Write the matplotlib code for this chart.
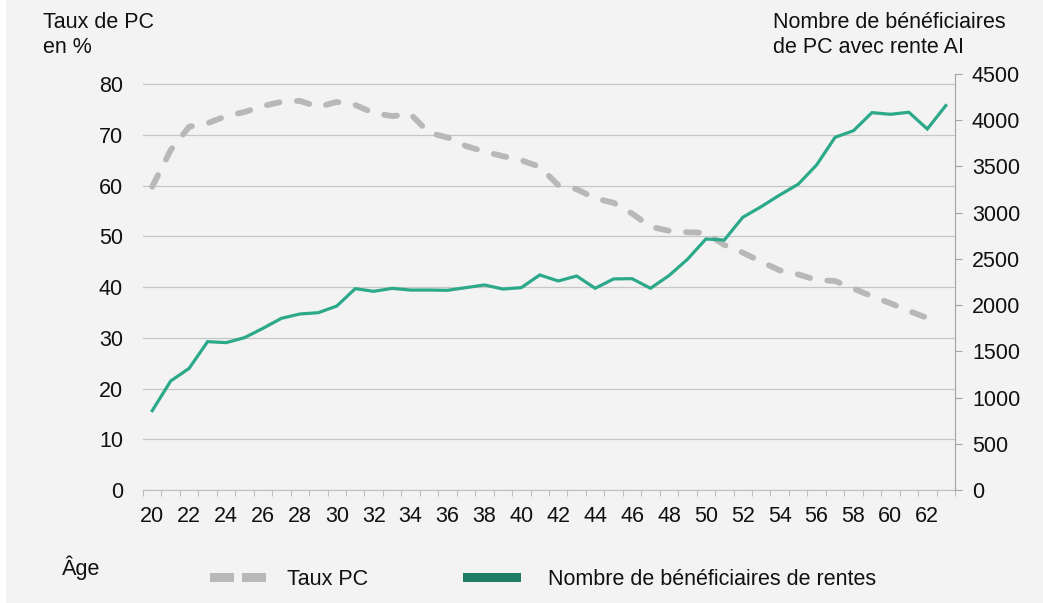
import matplotlib
matplotlib.use("Agg")
import matplotlib.pyplot as plt
from matplotlib.patches import Rectangle
import numpy as np

plt.rcParams['font.family'] = ['Liberation Sans', 'DejaVu Sans']

# data
ages = list(range(20, 64))
taux_pc = [59.8, 67.0, 71.6, 72.3, 73.7, 74.5, 75.7, 76.5, 76.7, 75.5,
           76.5, 75.9, 74.3, 73.7, 74.1, 70.4, 69.5, 67.8, 66.7, 65.8,
           65.0, 63.7, 60.1, 59.3, 57.5, 56.6, 54.5, 51.9, 51.1, 50.8,
           50.7, 48.3, 46.8, 45.0, 43.3, 42.5, 41.4, 41.2, 39.7, 38.2,
           36.8, 35.3, 33.9]
beneficiaires = [858, 1179, 1316, 1605, 1594, 1648, 1749, 1857, 1904, 1918,
                 1990, 2178, 2149, 2181, 2163, 2163, 2160, 2189, 2218, 2174,
                 2189, 2326, 2261, 2315, 2182, 2283, 2286, 2182, 2319, 2495,
                 2715, 2704, 2950, 3065, 3191, 3307, 3516, 3815, 3887, 4082,
                 4064, 4086, 3905, 4158]
left_ticks = list(range(0, 90, 10))
right_ticks = list(range(0, 5000, 500))
x_labels = [str(a) for a in ages[::2]]

W, H = 1043, 603
BG = '#f3f3f3'
GREY = '#b8b8b8'
GREEN = '#2ca98a'
GRID = '#c6c6c6'
TXT = '#111111'
FS = 15.5


def fx(x):
    return x / W


def fy(y):
    return 1 - y / H


fig = plt.figure(figsize=(W / 100, H / 100), dpi=100)
fig.patch.set_facecolor('white')
fig.add_artist(Rectangle((fx(6), 0), 1 - fx(6), 1, transform=fig.transFigure,
                         facecolor=BG, edgecolor='none', zorder=-10))

ax = fig.add_axes([fx(143), fy(490), fx(955) - fx(143), fy(74) - fy(490)])
ax.set_facecolor('none')
ax2 = ax.twinx()

x_pc = np.arange(len(taux_pc))
x_ben = np.arange(len(beneficiaires))

ln, = ax.plot(x_pc, taux_pc, color=GREY, lw=4.2, solid_capstyle='round',
              dash_capstyle='round', zorder=3)
ln.set_dashes([2.2, 3.0])
ax2.plot(x_ben, beneficiaires, color=GREEN, lw=2.3, solid_joinstyle='miter', zorder=3)

ax.set_xlim(-0.5, len(ages) - 0.5)
ax.set_ylim(0, 82)
ax2.set_ylim(0, 4500)

ax.set_yticks(left_ticks)
ax.set_yticklabels([str(t) for t in left_ticks])
ax.tick_params(axis='y', length=0, pad=14.4, labelsize=FS, labelcolor=TXT)
ax.yaxis.grid(True, color=GRID, lw=0.85)
ax.set_axisbelow(True)

ax.set_xticks(np.arange(0, len(ages), 2))
ax.set_xticklabels(x_labels)
ax.set_xticks(np.arange(-0.5, len(ages)), minor=True)
ax.tick_params(axis='x', which='major', length=0, pad=11.5, labelsize=FS, labelcolor=TXT)
ax.tick_params(axis='x', which='minor', length=4.3, width=0.8, color='#bfbfbf', direction='out')

ax2.set_yticks(right_ticks)
ax2.set_yticklabels([str(t) for t in right_ticks])
ax2.tick_params(axis='y', length=5, width=0.8, color='#a6a6a6', pad=7.2,
                labelsize=FS, labelcolor=TXT)

for a in (ax, ax2):
    for s in ('top', 'left', 'right', 'bottom'):
        a.spines[s].set_visible(False)
ax.spines['bottom'].set_visible(True)
ax.spines['bottom'].set_color('#bfbfbf')
ax.spines['bottom'].set_linewidth(0.85)
ax2.spines['right'].set_visible(True)
ax2.spines['right'].set_color('#a6a6a6')
ax2.spines['right'].set_linewidth(0.85)

# axis titles
fig.text(fx(43), fy(28.3), 'Taux de PC', fontsize=FS, color=TXT, va='baseline')
fig.text(fx(43), fy(52.7), 'en %', fontsize=FS, color=TXT, va='baseline')
fig.text(fx(773), fy(28.3), 'Nombre de bénéficiaires', fontsize=FS, color=TXT, va='baseline')
fig.text(fx(773), fy(52.7), 'de PC avec rente AI', fontsize=FS, color=TXT, va='baseline')
fig.text(fx(62), fy(575), 'Âge', fontsize=FS, color=TXT, va='baseline')

# legend
for x0 in (210, 242):
    fig.add_artist(Rectangle((fx(x0), fy(582)), fx(24), fy(573) - fy(582),
                             transform=fig.transFigure, facecolor=GREY, edgecolor='none'))
fig.text(fx(287), fy(585), 'Taux PC', fontsize=FS, color=TXT, va='baseline')
fig.add_artist(Rectangle((fx(463), fy(581.7)), fx(58), fy(572.7) - fy(581.7),
                         transform=fig.transFigure, facecolor='#1f7d66', edgecolor='none'))
fig.text(fx(548), fy(585), 'Nombre de bénéficiaires de rentes', fontsize=FS, color=TXT, va='baseline')

fig.savefig('out.png', dpi=100, facecolor=fig.get_facecolor())
